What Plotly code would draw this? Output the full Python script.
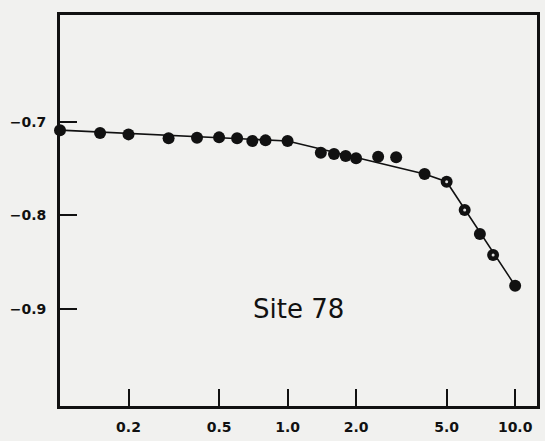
import plotly.graph_objects as go

# Measured points (Site 78)
x_pts = [0.1, 0.15, 0.2, 0.3, 0.4, 0.5, 0.6, 0.7, 0.8, 1.0,
         1.4, 1.6, 1.8, 2.0, 2.5, 3.0, 4.0, 5.0, 6.0, 7.0, 8.0, 10.0]
y_pts = [-0.709, -0.712, -0.7135, -0.7177, -0.7171, -0.7167, -0.7177, -0.7206, -0.7199, -0.7205,
         -0.7331, -0.7345, -0.7366, -0.7391, -0.7374, -0.738, -0.7558, -0.7641, -0.7943, -0.8199, -0.8423, -0.8751]

# Points drawn with a light centre
x_open = [5.0, 6.0, 8.0]
y_open = [-0.7641, -0.7943, -0.8423]

# Fitted broken line
fit_x = [0.1, 1.0, 4.0, 5.0, 10.0]
fit_y = [-0.709, -0.7205, -0.7558, -0.7641, -0.8751]

x_ticks = [0.2, 0.5, 1.0, 2.0, 5.0, 10.0]
x_labels = ["0.2", "0.5", "1.0", "2.0", "5.0", "10.0"]
y_ticks = [-0.7, -0.8, -0.9]
y_labels = ["−0.7", "−0.8", "−0.9"]

bg = "#f1f1ef"
ink = "#111111"

fig = go.Figure()
fig.add_trace(go.Scatter(x=fit_x, y=fit_y, mode="lines",
                         line=dict(color=ink, width=1.6), hoverinfo="skip", cliponaxis=False))
fig.add_trace(go.Scatter(x=x_pts, y=y_pts, mode="markers",
                         marker=dict(color=ink, size=12, line=dict(width=0)), cliponaxis=False))
fig.add_trace(go.Scatter(x=x_open, y=y_open, mode="markers",
                         marker=dict(color="#dddddd", size=3, line=dict(width=0)), cliponaxis=False))

fig.add_annotation(x=0.05, y=-0.9, xref="x", yref="y", text="Site 78", showarrow=False,
                   font=dict(family="DejaVu Sans", size=26, color=ink),
                   xanchor="center", yanchor="middle")

fig.update_layout(
    width=545, height=441,
    margin=dict(l=60, r=5, t=15, b=35),
    paper_bgcolor=bg, plot_bgcolor=bg,
    showlegend=False,
    font=dict(family="DejaVu Sans", color=ink),
)
fig.update_xaxes(type="log", range=[-1.0, 1.096],
                 tickvals=x_ticks, ticktext=x_labels,
                 ticks="inside", ticklen=17, tickwidth=2, tickcolor=ink,
                 showline=True, linewidth=3, linecolor=ink, mirror=True,
                 showgrid=False, zeroline=False,
                 tickfont=dict(family="DejaVu Sans", size=14, color=ink, weight="bold"),
                 ticklabelstandoff=6)
fig.update_yaxes(range=[-1.0036, -0.586],
                 tickvals=y_ticks, ticktext=y_labels,
                 ticks="inside", ticklen=17, tickwidth=2, tickcolor=ink,
                 showline=True, linewidth=3, linecolor=ink, mirror=True,
                 showgrid=False, zeroline=False,
                 tickfont=dict(family="DejaVu Sans", size=14, color=ink, weight="bold"),
                 ticklabelstandoff=8)

fig.write_html("out.html", config={"displayModeBar": False},
               post_script="document.body.style.margin='0';document.body.style.background='%s';" % bg)
